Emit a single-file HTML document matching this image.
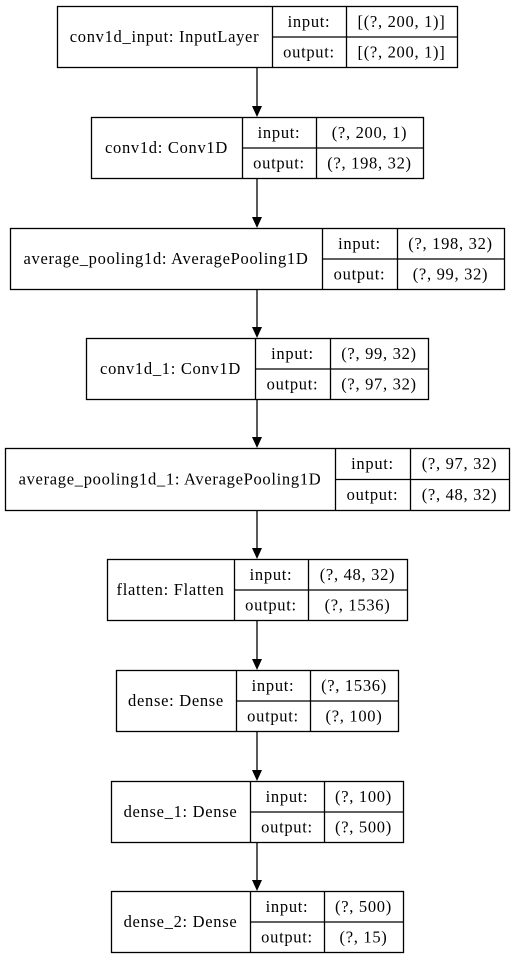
<!DOCTYPE html>
<html><head><meta charset="utf-8"><style>
html,body{margin:0;padding:0;background:#fff;width:515px;height:959px;overflow:hidden}
svg text{font-family:"Liberation Serif",serif;font-size:16.5px;letter-spacing:0.7px;fill:#000}
</style></head><body>
<svg id="g" width="515" height="959" xmlns="http://www.w3.org/2000/svg"></svg>
<script>
const layerNames=["conv1d_input: InputLayer","conv1d: Conv1D","average_pooling1d: AveragePooling1D","conv1d_1: Conv1D","average_pooling1d_1: AveragePooling1D","flatten: Flatten","dense: Dense","dense_1: Dense","dense_2: Dense"];
const inputShapes=["[(?, 200, 1)]","(?, 200, 1)","(?, 198, 32)","(?, 99, 32)","(?, 97, 32)","(?, 48, 32)","(?, 1536)","(?, 100)","(?, 500)"];
const outputShapes=["[(?, 200, 1)]","(?, 198, 32)","(?, 99, 32)","(?, 97, 32)","(?, 48, 32)","(?, 1536)","(?, 100)","(?, 500)","(?, 15)"];
// layout geometry: [x0, y0, x1, y1, div1, div2]
const boxes=[[57,6,457,67,272,346],[91,117,423,178,242,316],[10,228,504,289,322,397],[86,338,428,399,255,330],[5,448,509,510,335,410],[107,559,407,620,234,308],[116,670,398,731,236,310],[111,781,403,842,250,324],[111,891,403,952,250,324]];
const svg=document.getElementById('g');
const NS='http://www.w3.org/2000/svg';
function mk(t,a){const e=document.createElementNS(NS,t);for(const k in a)e.setAttribute(k,a[k]);svg.appendChild(e);return e;}
function txt(x,y,s){const t=mk('text',{x:x,y:y,'text-anchor':'middle','dominant-baseline':'central'});t.textContent=s;return t;}
layerNames.forEach((n,i)=>{
  const [x0,y0,x1,y1,d1,d2]=boxes[i];const ym=(y0+y1)/2;
  const r=mk('rect',{x:x0+0.5,y:y0+0.5,width:x1-x0,height:y1-y0,fill:'#fff',stroke:'#000','stroke-width':1.3});
  
  
  const l1=mk('line',{x1:d1+0.5,y1:y0,x2:d1+0.5,y2:y1,stroke:'#000','stroke-width':1.3});
  
  
  const l2=mk('line',{x1:d2+0.5,y1:y0,x2:d2+0.5,y2:y1,stroke:'#000','stroke-width':1.3});
  
  
  const l3=mk('line',{x1:d1,y1:ym+0.5,x2:x1,y2:ym+0.5,stroke:'#000','stroke-width':1.3});
  
  
  const t0=txt((x0+d1)/2,ym,n);
  
  
  const t1=txt((d1+d2)/2,(y0+ym)/2,'input:');
  
  
  const t2=txt((d1+d2)/2,(ym+y1)/2,'output:');
  
  
  const t3=txt((d2+x1)/2,(y0+ym)/2,inputShapes[i]);
  
  
  const t4=txt((d2+x1)/2,(ym+y1)/2,outputShapes[i]);
  
  
  if(i<boxes.length-1){
    const ny=boxes[i+1][1];const cx=257;
    const a=mk('line',{x1:cx,y1:y1+1,x2:cx,y2:ny-10,stroke:'#000','stroke-width':1.3});
    
    
    const h=mk('polygon',{points:`${cx-5},${ny-11} ${cx+5},${ny-11} ${cx},${ny}`,fill:'#000'});
    
    
  }
});
</script>
</body></html>
